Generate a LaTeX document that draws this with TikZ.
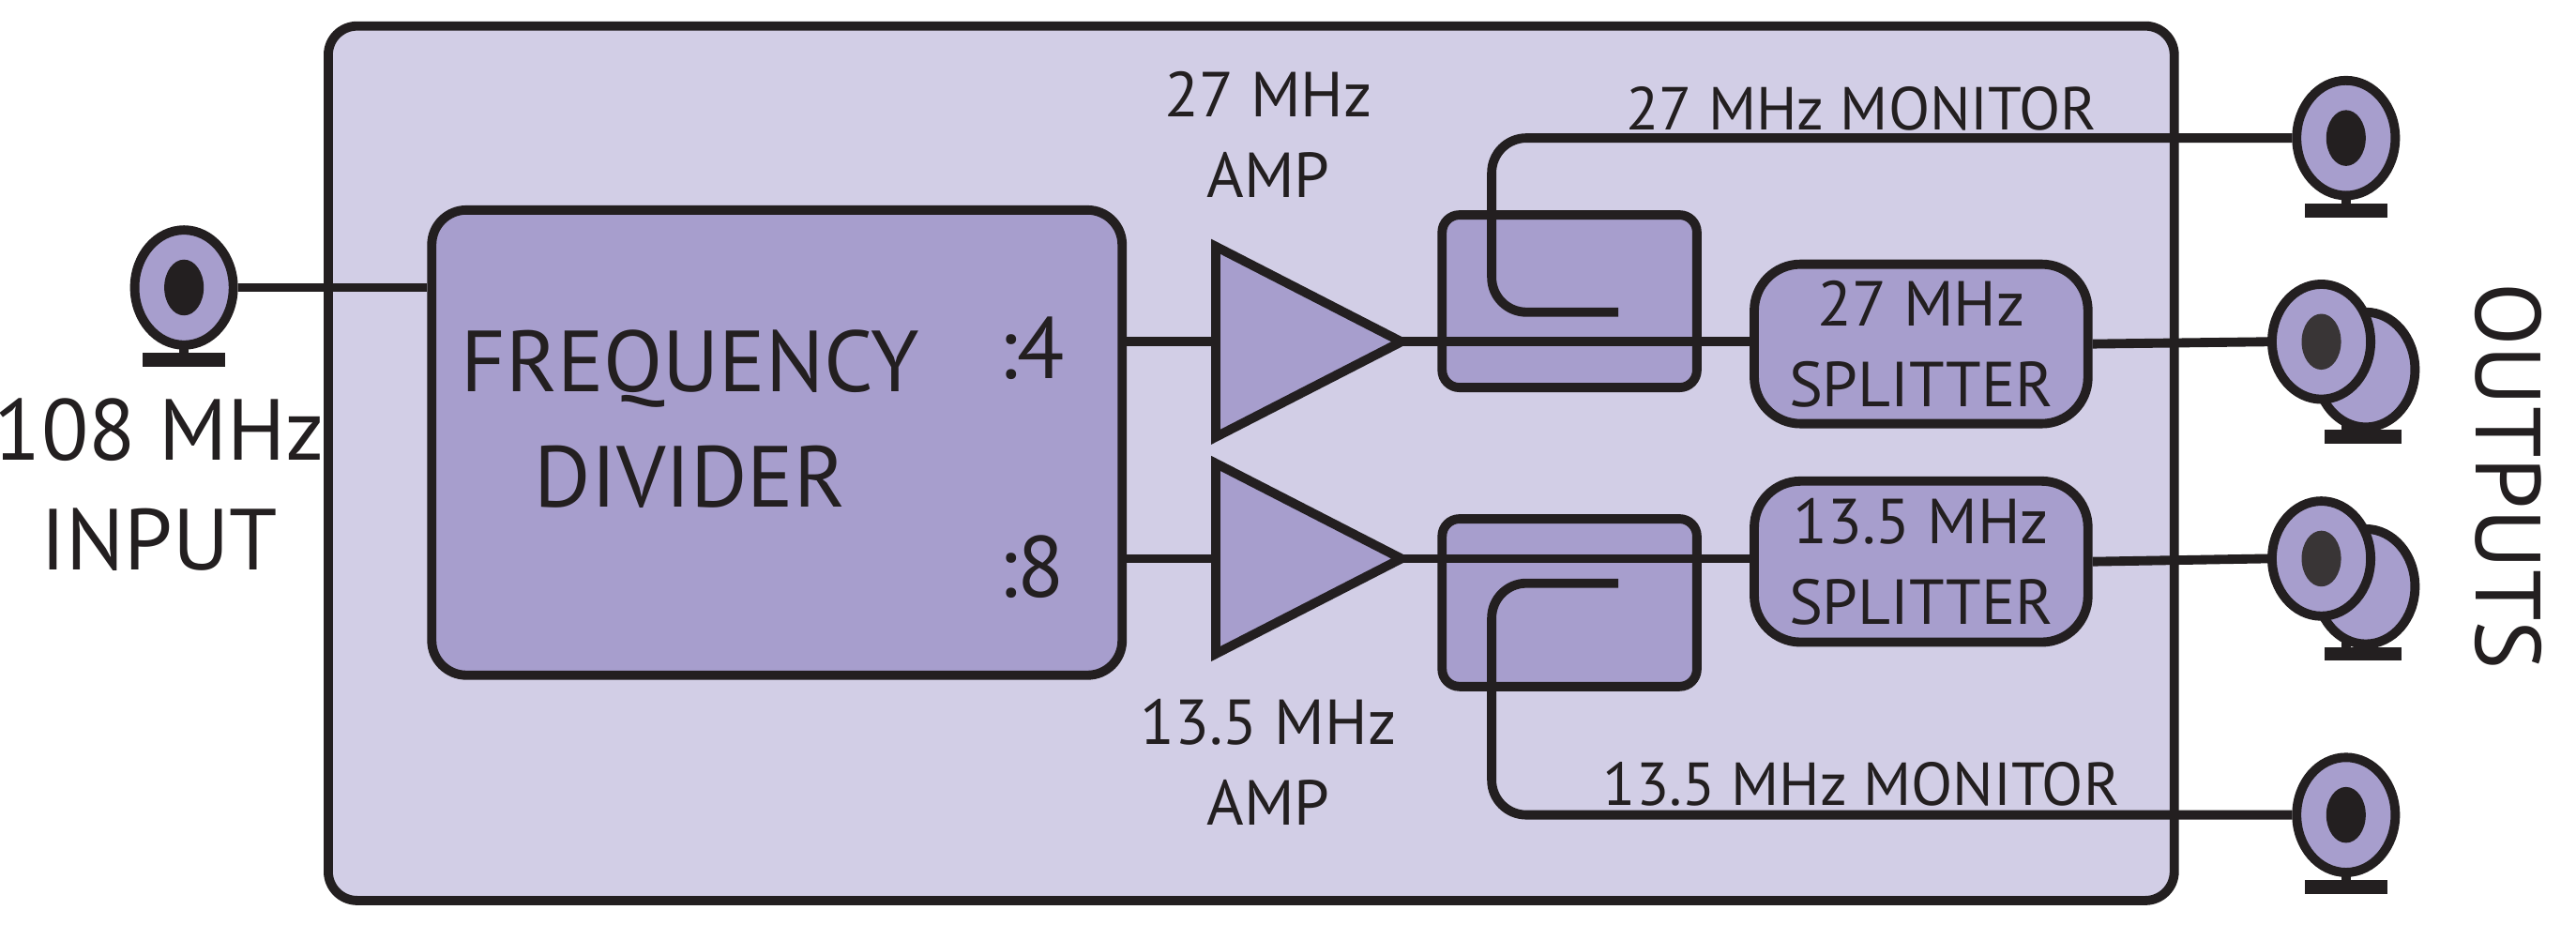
\documentclass[tikz,border=0pt]{standalone}
\usepackage{fontspec}
\setmainfont{PT Sans}
\usetikzlibrary{shapes.geometric}
\definecolor{lightp}{HTML}{D2CEE6}
\definecolor{midp}{HTML}{A79ECD}
\definecolor{ink}{HTML}{231F20}
\tikzset{
  ln/.style={draw=ink,line width=1.6pt},
  blk/.style={ln,fill=midp,rounded corners=3pt},
  lbl/.style={text=ink,align=center,inner sep=0pt,font=\fontsize{10}{12}\selectfont},
  jack/.style={ln,ellipse,fill=midp,minimum width=0.6cm,minimum height=0.7cm,inner sep=0pt},
}
\newcommand{\conn}[3]{% name, x, y
  \draw[ln] (#2,#3+35) -- (#2,#3+42);
  \draw[draw=ink,line width=2.4pt] (#2-25,#3+44) -- (#2+25,#3+44);
  \node[jack] (#1) at (#2,#3) {};
  \fill[ink] (#2,#3) ellipse [x radius=12, y radius=17];
}
\begin{document}
\begin{tikzpicture}[x=0.01cm,y=-0.01cm]
\useasboundingbox (0,0) rectangle (1568,563);
\node[ln,fill=lightp,rounded corners=5pt,minimum width=11.23cm,minimum height=5.32cm,anchor=north west] (outer) at (197,13) {};
% input
\conn{inp}{112}{175}
\node[lbl,font=\fontsize{15}{19}\selectfont] (inlbl) at (97,295) {108 MHz\\INPUT};
\node[blk,rounded corners=6pt,minimum width=4.2cm,minimum height=2.83cm,anchor=north west] (div) at (260,125) {};
\node[lbl,font=\fontsize{15}{20}\selectfont] (divt) at (420,255) {FREQUENCY\\DIVIDER};
\node[lbl,font=\fontsize{15}{20}\selectfont] (d4) at (628,212) {:4};
\node[lbl,font=\fontsize{15}{20}\selectfont] (d8) at (628,345) {:8};
\draw[ln] (inp.east) -- (div.west |- inp.east);
% amps
\coordinate (a1in) at (740,208);
\coordinate (a2in) at (740,340);
\coordinate (a1out) at (853,208);
\coordinate (a2out) at (853,340);
\draw[ln,fill=midp,line join=miter] (740,150) -- (a1out) -- (740,266) -- cycle;
\draw[ln,fill=midp,line join=miter] (740,282) -- (a2out) -- (740,398) -- cycle;
\draw[ln] (div.east |- a1in) -- (a1in);
\draw[ln] (div.east |- a2in) -- (a2in);
\node[lbl,font=\fontsize{11}{14}\selectfont] (amp1l) at (772,82) {27 MHz\\AMP};
\node[lbl,font=\fontsize{11}{14}\selectfont] (amp2l) at (772,464) {13.5 MHz\\AMP};
% couplers
\node[blk,minimum width=1.55cm,minimum height=1.05cm,anchor=north west] (c1) at (875,128) {};
\node[blk,minimum width=1.55cm,minimum height=1.02cm,anchor=north west] (c2) at (875,313) {};
% splitters
\node[blk,rounded corners=8pt,minimum width=2.03cm,minimum height=0.97cm,anchor=north west] (s1) at (1065,158) {};
\node[blk,rounded corners=8pt,minimum width=2.03cm,minimum height=0.98cm,anchor=north west] (s2) at (1065,290) {};
\node[lbl,font=\fontsize{11}{14}\selectfont] (s1t) at (s1.center) {27 MHz\\SPLITTER};
\node[lbl,font=\fontsize{11}{14}\selectfont] (s2t) at (s2.center) {13.5 MHz\\SPLITTER};
\draw[ln] (a1out) -- (s1.west |- a1out);
\draw[ln] (a2out) -- (s2.west |- a2out);
% output connectors (double)
\draw[ln] (1428,250) -- (1428,266);
\draw[draw=ink,line width=2.4pt] (1415,266) -- (1462,266);
\node[jack] (o1b) at (1440,225) {};
\node[jack] (o1) at (1413,208) {};
\fill[ink!90] (1413,208) ellipse [x radius=12, y radius=17];
\draw[ln] (1428,382) -- (1428,398);
\draw[draw=ink,line width=2.4pt] (1415,398) -- (1462,398);
\node[jack] (o2b) at (1440,357) {};
\node[jack] (o2) at (1413,340) {};
\fill[ink!90] (1413,340) ellipse [x radius=12, y radius=17];
\draw[ln] (s1.east) -- (o1.west);
\draw[ln] (s2.east) -- (o2.west);
% monitors
\conn{m1}{1428}{84}
\conn{m2}{1428}{496}
\coordinate (m1a) at (985,190);
\coordinate (m2a) at (985,355);
\draw[ln,rounded corners=6pt] (m1a) -- (908,190) -- (908,84) -- (m1.west);
\draw[ln,rounded corners=6pt] (m2a) -- (908,355) -- (908,496) -- (m2.west);
\node[lbl,font=\fontsize{10.5}{13}\selectfont] (m1l) at (1133,66) {27 MHz MONITOR};
\node[lbl,font=\fontsize{10.5}{13}\selectfont] (m2l) at (1133,477) {13.5 MHz MONITOR};
\node[lbl,font=\fontsize{16}{20}\selectfont,rotate=-90] (outl) at (1527,290) {OUTPUTS};
\end{tikzpicture}
\end{document}
